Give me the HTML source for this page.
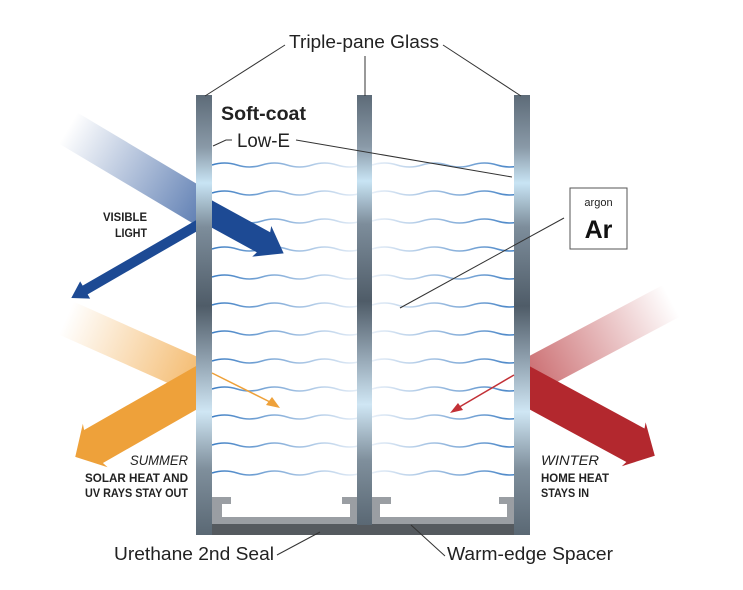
<!DOCTYPE html>
<html><head><meta charset="utf-8"><style>
html,body{margin:0;padding:0;background:#fff;}
svg{display:block;}
text{font-family:"Liberation Sans",sans-serif;}
</style></head><body>
<svg width="743" height="590" viewBox="0 0 743 590" xmlns="http://www.w3.org/2000/svg">
<defs>
<linearGradient id="pane" x1="0" y1="0" x2="0" y2="1">
<stop offset="0" stop-color="#5d6b78"/><stop offset="0.12" stop-color="#8a9aa8"/>
<stop offset="0.2" stop-color="#c8e4f4"/><stop offset="0.3" stop-color="#7d8d9b"/>
<stop offset="0.48" stop-color="#4f5c68"/><stop offset="0.6" stop-color="#8fa0ae"/>
<stop offset="0.72" stop-color="#cfe6f4"/><stop offset="0.85" stop-color="#7f8f9c"/>
<stop offset="1" stop-color="#5a6874"/></linearGradient>
<linearGradient id="wl" x1="0" y1="0" x2="1" y2="0"><stop offset="0" stop-color="#3f7fc4"/><stop offset="1" stop-color="#3f7fc4" stop-opacity="0.12"/></linearGradient>
<linearGradient id="wr" x1="0" y1="0" x2="1" y2="0"><stop offset="0" stop-color="#3f7fc4" stop-opacity="0.12"/><stop offset="1" stop-color="#3f7fc4"/></linearGradient>
<linearGradient id="bfade" x1="0" y1="0" x2="1" y2="0"><stop offset="0" stop-color="#1d4a94" stop-opacity="0"/><stop offset="1" stop-color="#1d4a94" stop-opacity="0.7"/></linearGradient>
<linearGradient id="ofade" x1="0" y1="0" x2="1" y2="0"><stop offset="0" stop-color="#f0a23a" stop-opacity="0"/><stop offset="1" stop-color="#f0a23a" stop-opacity="0.75"/></linearGradient>
<linearGradient id="rfade" x1="0" y1="0" x2="1" y2="0"><stop offset="0" stop-color="#b2272c" stop-opacity="0.75"/><stop offset="1" stop-color="#b2272c" stop-opacity="0"/></linearGradient>
<clipPath id="cl"><rect x="0" y="0" width="197" height="590"/></clipPath>
<clipPath id="cm"><rect x="211" y="0" width="140" height="590"/></clipPath>
<clipPath id="cr"><rect x="529" y="0" width="214" height="590"/></clipPath>
<path id="wave" d="M0 0 q12.5 -4 25 0 t25 0 t25 0 t25 0 t25 0 t25 0" fill="none" stroke-width="1.6"/>
</defs>

<!-- waves -->
<g>
<use href="#wave" stroke="url(#wl)" transform="translate(212,165)"/>
<use href="#wave" stroke="url(#wl)" transform="translate(212,193)"/>
<use href="#wave" stroke="url(#wl)" transform="translate(212,221)"/>
<use href="#wave" stroke="url(#wl)" transform="translate(212,249)"/>
<use href="#wave" stroke="url(#wl)" transform="translate(212,277)"/>
<use href="#wave" stroke="url(#wl)" transform="translate(212,305)"/>
<use href="#wave" stroke="url(#wl)" transform="translate(212,333)"/>
<use href="#wave" stroke="url(#wl)" transform="translate(212,361)"/>
<use href="#wave" stroke="url(#wl)" transform="translate(212,389)"/>
<use href="#wave" stroke="url(#wl)" transform="translate(212,417)"/>
<use href="#wave" stroke="url(#wl)" transform="translate(212,445)"/>
<use href="#wave" stroke="url(#wl)" transform="translate(212,473)"/>
<use href="#wave" stroke="url(#wr)" transform="translate(372,165)"/>
<use href="#wave" stroke="url(#wr)" transform="translate(372,193)"/>
<use href="#wave" stroke="url(#wr)" transform="translate(372,221)"/>
<use href="#wave" stroke="url(#wr)" transform="translate(372,249)"/>
<use href="#wave" stroke="url(#wr)" transform="translate(372,277)"/>
<use href="#wave" stroke="url(#wr)" transform="translate(372,305)"/>
<use href="#wave" stroke="url(#wr)" transform="translate(372,333)"/>
<use href="#wave" stroke="url(#wr)" transform="translate(372,361)"/>
<use href="#wave" stroke="url(#wr)" transform="translate(372,389)"/>
<use href="#wave" stroke="url(#wr)" transform="translate(372,417)"/>
<use href="#wave" stroke="url(#wr)" transform="translate(372,445)"/>
<use href="#wave" stroke="url(#wr)" transform="translate(372,473)"/>
</g>

<!-- spacer -->
<path d="M212 497 H231 V504 H222 V517 H350 V504 H342 V497 H357 V525 H212 Z" fill="#9a9ea3"/>
<path d="M372 497 H391 V504 H380 V517 H507 V504 H499 V497 H514 V525 H372 Z" fill="#9a9ea3"/>
<rect x="212" y="524" width="302" height="11" fill="#555a5f"/>

<!-- fade bands -->
<g clip-path="url(#cl)">
<rect x="0" y="-18" width="160" height="36" fill="url(#bfade)" transform="translate(68,128) rotate(30.8)"/>
<rect x="0" y="-18" width="150" height="36" fill="url(#ofade)" transform="translate(66,318) rotate(24)"/>
</g>
<g clip-path="url(#cr)">
<rect x="-20" y="-18" width="180" height="36" fill="url(#rfade)" transform="translate(530,376) rotate(-28)"/>
</g>

<!-- arrows -->
<g clip-path="url(#cm)">
<polygon points="-20,-12 62,-12 60,-18 84,0 58,18 60,12 -20,12" fill="#1d4a94" transform="translate(210,213) rotate(28.7)"/>
</g>
<g clip-path="url(#cl)">
<polygon points="-20,-5 128,-5 128,-10 144,0 128,10 128,5 -20,5" fill="#1d4a94" transform="translate(196,226) rotate(150)"/>
<polygon points="-30,-19 118,-19 116,-25 139,0 116,25 118,19 -30,19" fill="#eea13a" transform="translate(196,388) rotate(150.3)"/>
</g>
<g clip-path="url(#cr)">
<polygon points="-30,-19 120,-19 118,-25 142,0 118,25 120,19 -30,19" fill="#b3282e" transform="translate(530,388) rotate(28.5)"/>
</g>

<!-- panes -->
<rect x="196" y="95" width="16" height="440" fill="url(#pane)"/>
<rect x="357" y="95" width="15" height="430" fill="url(#pane)"/>
<rect x="514" y="95" width="16" height="440" fill="url(#pane)"/>

<line x1="212" y1="373" x2="272" y2="403" stroke="#eea13a" stroke-width="1.5"/>
<polygon points="280,408 266,405 272,397" fill="#eea13a"/>
<line x1="514" y1="375" x2="456" y2="409" stroke="#c23036" stroke-width="1.5"/>
<polygon points="450,413 458,403 463,410" fill="#c23036"/>

<!-- leaders -->
<g stroke="#333" stroke-width="1" fill="none">
<line x1="285" y1="45" x2="205" y2="96"/>
<line x1="365" y1="56" x2="365" y2="96"/>
<line x1="443" y1="45" x2="521" y2="96"/>
<polyline points="232,140 226,140 213,146"/>
<line x1="296" y1="140" x2="512" y2="177"/>
<line x1="564" y1="218" x2="400" y2="308"/>
<line x1="277" y1="555" x2="320" y2="532"/>
<line x1="445" y1="556" x2="411" y2="525"/>
</g>

<!-- argon box -->
<rect x="570" y="188" width="57" height="61" fill="#fff" stroke="#555" stroke-width="1"/>
<text x="598.5" y="206" font-size="11" text-anchor="middle" fill="#222">argon</text>
<text x="598.5" y="238" font-size="25" font-weight="bold" text-anchor="middle" fill="#111">Ar</text>

<!-- labels -->
<text x="364" y="48" font-size="18" text-anchor="middle" fill="#222" textLength="150" lengthAdjust="spacingAndGlyphs">Triple-pane Glass</text>
<text x="221" y="120" font-size="19" font-weight="bold" fill="#222" textLength="85" lengthAdjust="spacingAndGlyphs">Soft-coat</text>
<text x="237" y="147" font-size="19" fill="#222" textLength="53" lengthAdjust="spacingAndGlyphs">Low-E</text>
<text x="114" y="560" font-size="18" fill="#222" textLength="160" lengthAdjust="spacingAndGlyphs">Urethane 2nd Seal</text>
<text x="447" y="560" font-size="18" fill="#222" textLength="166" lengthAdjust="spacingAndGlyphs">Warm-edge Spacer</text>

<g font-weight="bold" font-size="11.5" fill="#222">
<text x="147" y="221" text-anchor="end" textLength="44" lengthAdjust="spacingAndGlyphs">VISIBLE</text>
<text x="147" y="237" text-anchor="end" textLength="32" lengthAdjust="spacingAndGlyphs">LIGHT</text>
<text x="188" y="465" text-anchor="end" font-style="italic" font-weight="normal" font-size="14" textLength="58" lengthAdjust="spacingAndGlyphs">SUMMER</text>
<text x="188" y="482" text-anchor="end" textLength="103" lengthAdjust="spacingAndGlyphs">SOLAR HEAT AND</text>
<text x="188" y="497" text-anchor="end" textLength="103" lengthAdjust="spacingAndGlyphs">UV RAYS STAY OUT</text>
<text x="541" y="465" font-style="italic" font-weight="normal" font-size="14" textLength="58" lengthAdjust="spacingAndGlyphs">WINTER</text>
<text x="541" y="482" textLength="68" lengthAdjust="spacingAndGlyphs">HOME HEAT</text>
<text x="541" y="497" textLength="48" lengthAdjust="spacingAndGlyphs">STAYS IN</text>
</g>
</svg>
</body></html>
